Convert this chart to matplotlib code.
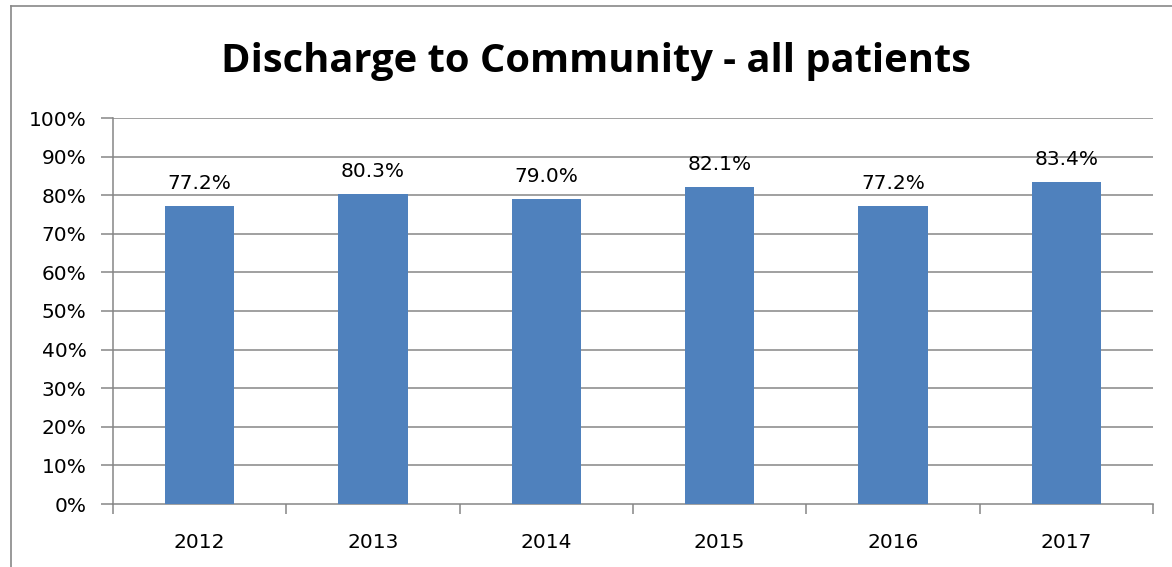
import matplotlib
matplotlib.use("Agg")
import matplotlib.pyplot as plt
from matplotlib.lines import Line2D
import numpy as np

years = ["2012", "2013", "2014", "2015", "2016", "2017"]
values = [77.2, 80.3, 79.0, 82.1, 77.2, 83.4]
title = "Discharge to Community - all patients"

plt.rcParams['font.family'] = ['DejaVu Sans']

W, H = 1172, 567
fig = plt.figure(figsize=(W/100, H/100), dpi=100)
fig.patch.set_facecolor("white")

ax = fig.add_axes([113/W, (H-504)/H, (1153-113)/W, (504-118)/H])
x = np.arange(len(years))
ax.bar(x, values, width=0.4, color="#4F81BD", zorder=3)
ax.set_xlim(-0.5, len(years)-0.5)
ax.set_ylim(0, 100)

grid_c = "#868686"
yt = np.arange(0, 101, 10)
ax.set_yticks(yt)
ax.set_yticklabels([f"{v}%" for v in yt])
for v in yt[1:]:
    ax.axhline(v, color=grid_c, lw=1.1, zorder=1)
ax.tick_params(axis='y', length=9, width=1.1, color=grid_c, labelsize=14.5, pad=10)

ax.set_xticks(np.arange(-0.5, len(years), 1.0))
ax.set_xticklabels([])
ax.set_xticks(x, minor=True)
ax.set_xticklabels(years, minor=True)
ax.tick_params(axis='x', which='major', length=7, width=1.1, color=grid_c)
ax.tick_params(axis='x', which='minor', length=0, labelsize=14.5, pad=21)

for s in ["top", "right"]:
    ax.spines[s].set_visible(False)
for s in ["left", "bottom"]:
    ax.spines[s].set_color(grid_c)
    ax.spines[s].set_linewidth(1.1)

for xi, v in zip(x, values):
    ax.annotate(f"{v:.1f}%", (xi, v), xytext=(0, 12), textcoords="offset points",
                ha="center", va="baseline", fontsize=14.5, zorder=4)

fig.text(596/W, (H-72)/H, title, ha="center", va="baseline", fontsize=28.7,
         fontweight="bold", family=["Open Sans", "DejaVu Sans"])

# outer chart frame
fig.add_artist(Line2D([11/W, 11/W], [0, (H-6)/H], color="#888888", lw=1.2))
fig.add_artist(Line2D([11/W, 1.0], [(H-6)/H, (H-6)/H], color="#888888", lw=1.2))

fig.savefig("out.png", dpi=100)
